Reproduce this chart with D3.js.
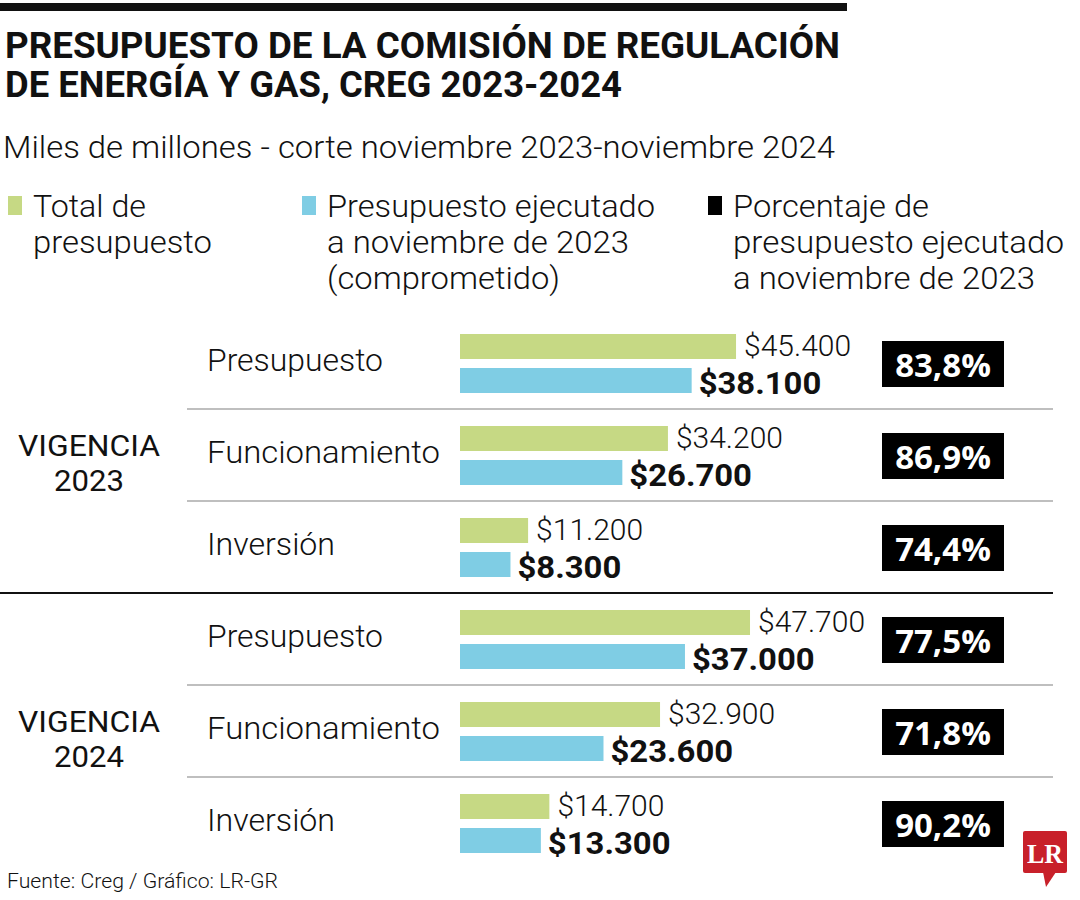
<!DOCTYPE html>
<html>
<head>
<meta charset="utf-8">
<script src="https://cdn.jsdelivr.net/npm/d3@7/dist/d3.min.js"></script>
<style>
  html, body { margin: 0; padding: 0; background: #fff; }
  svg { display: block; }
</style>
</head>
<body>
<svg id="chart" width="1080" height="900"></svg>
<script>
// ---------- DATA ----------
const titleLines = ["PRESUPUESTO DE LA COMISIÓN DE REGULACIÓN", "DE ENERGÍA Y GAS, CREG 2023-2024"];
const subtitle = "Miles de millones - corte noviembre 2023-noviembre 2024";
const legendLabels = [
  ["Total de", "presupuesto"],
  ["Presupuesto ejecutado", "a noviembre de 2023", "(comprometido)"],
  ["Porcentaje de", "presupuesto ejecutado", "a noviembre de 2023"]
];
const vigencias = ["2023", "2024"];
const categories = ["Presupuesto", "Funcionamiento", "Inversión"];
const totalPresupuesto = [45400, 34200, 11200, 47700, 32900, 14700];
const ejecutado = [38100, 26700, 8300, 37000, 23600, 13300];
const porcentaje = ["83,8%", "86,9%", "74,4%", "77,5%", "71,8%", "90,2%"];
const source = "Fuente: Creg / Gráfico: LR-GR";

// ---------- STYLE ----------
const GREEN = "#c6d984", BLUE = "#7fcde4", TEXT = "#111";
const LIGHT = "Roboto, 'Open Sans', sans-serif";
const BOLD = "'Open Sans', Roboto, sans-serif";
const TITLE = "Roboto, 'DejaVu Sans', sans-serif";

const svg = d3.select("#chart");

function fit(sel, w) {
  sel.attr("textLength", w).attr("lengthAdjust", "spacingAndGlyphs");
  return sel;
}
function stretch(sel, k) {
  const w = sel.node().getComputedTextLength();
  return fit(sel, w * k);
}

// top rule
svg.append("rect").attr("x", 0).attr("y", 3).attr("width", 847).attr("height", 8).attr("fill", "#111");

// title
const titleW = [835, 617];
titleLines.forEach((t, i) => {
  fit(svg.append("text").attr("x", 5).attr("y", 58 + i * 39)
    .attr("font-family", TITLE).attr("font-weight", 700).attr("font-size", 37)
    .attr("fill", TEXT).text(t), titleW[i]);
});

// subtitle
fit(svg.append("text").attr("x", 3).attr("y", 158)
  .attr("font-family", LIGHT).attr("font-weight", 300).attr("font-size", 31)
  .attr("fill", TEXT).text(subtitle), 832);

// legend
const legendX = [8, 302, 708];
const legendColors = [GREEN, BLUE, "#000"];
const legendW = [[113, 179], [328, 302, 233], [196, 331, 302]];
legendLabels.forEach((lines, i) => {
  svg.append("rect").attr("x", legendX[i]).attr("y", 196).attr("width", 14).attr("height", 19)
    .attr("fill", legendColors[i]);
  lines.forEach((l, j) => {
    fit(svg.append("text").attr("x", legendX[i] + 25).attr("y", 217 + j * 36)
      .attr("font-family", LIGHT).attr("font-weight", 300).attr("font-size", 31)
      .attr("fill", TEXT).text(l), legendW[i][j]);
  });
});

// rows
const rows = [];
vigencias.forEach((v, vi) => categories.forEach((c, ci) => {
  const k = vi * categories.length + ci;
  rows.push({ key: v + "-" + c, vig: v, cat: c, total: totalPresupuesto[k], ejec: ejecutado[k], pct: porcentaje[k], ci });
}));

const y = d3.scaleBand().domain(rows.map(r => r.key)).range([317, 869]);
const x = d3.scaleLinear().domain([0, 50000]).range([460, 764]);
const loc = d3.formatLocale({ decimal: ",", thousands: ".", grouping: [3], currency: ["$", ""] });
const fmt = loc.format("$,.0f");
const bh = 25;
const cy = r => y(r.key) + y.bandwidth() / 2;

// separators
rows.forEach((r, i) => {
  if (i === rows.length - 1) return;
  const yy = y(r.key) + y.bandwidth();
  const groupEnd = r.ci === categories.length - 1;
  svg.append("line")
    .attr("x1", groupEnd ? 0 : 187).attr("x2", 1053)
    .attr("y1", yy).attr("y2", yy)
    .attr("stroke", groupEnd ? "#111" : "#aaa")
    .attr("stroke-width", groupEnd ? 2 : 1.5);
});

const catW = { "Presupuesto": 176, "Funcionamiento": 233, "Inversión": 128 };
const g = svg.append("g");
rows.forEach(r => {
  const c = cy(r);
  fit(g.append("text").attr("x", 207).attr("y", c + 8)
    .attr("font-family", LIGHT).attr("font-weight", 300).attr("font-size", 31)
    .attr("fill", TEXT).text(r.cat), catW[r.cat]);

  g.append("rect").attr("x", x(0)).attr("y", c - 29).attr("width", x(r.total) - x(0)).attr("height", bh).attr("fill", GREEN);
  g.append("rect").attr("x", x(0)).attr("y", c + 5).attr("width", x(r.ejec) - x(0)).attr("height", bh).attr("fill", BLUE);

  g.append("text").attr("x", x(r.total) + 8).attr("y", c - 7)
    .attr("font-family", LIGHT).attr("font-weight", 300).attr("font-size", 30)
    .attr("fill", TEXT).text(fmt(r.total));
  stretch(g.append("text").attr("x", x(r.ejec) + 7).attr("y", c + 31)
    .attr("font-family", "Roboto, sans-serif").attr("font-weight", 700).attr("font-size", 31)
    .attr("fill", TEXT).text(fmt(r.ejec)), 1.06);

  g.append("rect").attr("x", 882).attr("y", c - 22).attr("width", 122).attr("height", 46).attr("fill", "#000");
  g.append("text").attr("x", 943).attr("y", c + 14).attr("text-anchor", "middle")
    .attr("font-family", BOLD).attr("font-weight", 700).attr("font-size", 33)
    .attr("fill", "#fff").text(r.pct);
});

// vigencia labels
vigencias.forEach((v, vi) => {
  const mid = cy(rows[vi * 3 + 1]);
  fit(svg.append("text").attr("x", 89).attr("y", mid + 1).attr("text-anchor", "middle")
    .attr("font-family", LIGHT).attr("font-weight", 400).attr("font-size", 30)
    .attr("fill", TEXT).text("VIGENCIA"), 142);
  fit(svg.append("text").attr("x", 89).attr("y", mid + 36).attr("text-anchor", "middle")
    .attr("font-family", LIGHT).attr("font-weight", 400).attr("font-size", 30)
    .attr("fill", TEXT).text(v), 70);
});

// source
fit(svg.append("text").attr("x", 7).attr("y", 888)
  .attr("font-family", LIGHT).attr("font-weight", 300).attr("font-size", 21)
  .attr("fill", TEXT).text(source), 271);

// LR logo
svg.append("rect").attr("x", 1023).attr("y", 831).attr("width", 44).attr("height", 42).attr("rx", 2).attr("fill", "#c8202a");
svg.append("polygon").attr("points", "1043,872 1056,872 1046,887").attr("fill", "#c8202a");
svg.append("text").attr("x", 1045).attr("y", 863).attr("text-anchor", "middle")
  .attr("font-family", "'Liberation Serif', 'DejaVu Serif', serif").attr("font-weight", 700).attr("font-size", 27)
  .attr("fill", "#fff").attr("textLength", 36).attr("lengthAdjust", "spacingAndGlyphs").text("LR");
</script>
</body>
</html>
